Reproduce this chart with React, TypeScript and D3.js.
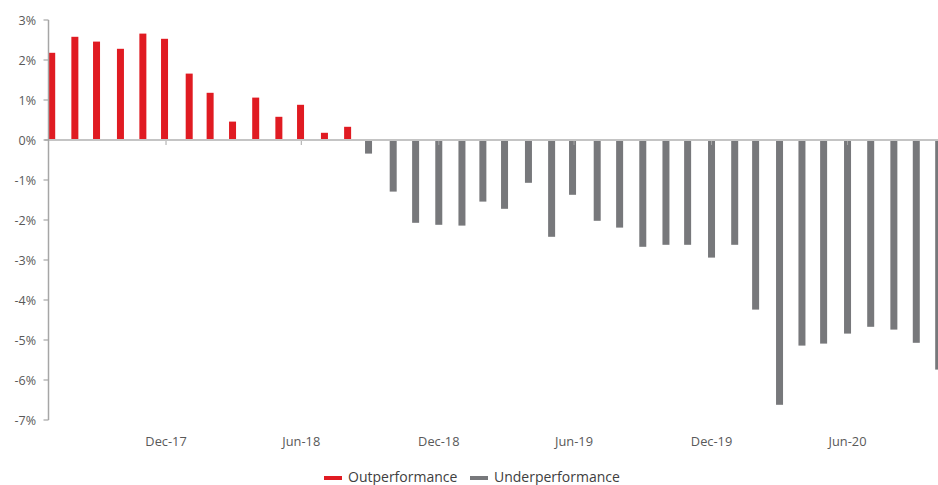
import { useEffect, useRef } from "react";
import * as d3 from "d3";

// month-end business dates, Jul-17 .. Oct-20
const dates = [
  "2017-07-31", "2017-08-31", "2017-09-29", "2017-10-31", "2017-11-30", "2017-12-29",
  "2018-01-31", "2018-02-28", "2018-03-30", "2018-04-30", "2018-05-31", "2018-06-29",
  "2018-07-31", "2018-08-31", "2018-09-28", "2018-10-31", "2018-11-30", "2018-12-31",
  "2019-01-31", "2019-02-28", "2019-03-29", "2019-04-30", "2019-05-31", "2019-06-28",
  "2019-07-31", "2019-08-30", "2019-09-30", "2019-10-31", "2019-11-29", "2019-12-31",
  "2020-01-31", "2020-02-28", "2020-03-31", "2020-04-30", "2020-05-29", "2020-06-30",
  "2020-07-31", "2020-08-31", "2020-09-30", "2020-10-30",
];

// relative performance, %
const values = [
  2.18, 2.58, 2.46, 2.28, 2.66, 2.53,
  1.66, 1.18, 0.46, 1.06, 0.58, 0.88,
  0.18, 0.33, -0.34, -1.29, -2.07, -2.12,
  -2.14, -1.54, -1.72, -1.07, -2.42, -1.37,
  -2.02, -2.19, -2.67, -2.62, -2.62, -2.94,
  -2.62, -4.24, -6.62, -5.14, -5.09, -4.84,
  -4.67, -4.74, -5.07, -5.74,
];

const tickDates = ["2017-12-31", "2018-06-30", "2018-12-31", "2019-06-30", "2019-12-31", "2020-06-30"];
const tickLabels = ["Dec-17", "Jun-18", "Dec-18", "Jun-19", "Dec-19", "Jun-20"];
const yTicks = [3, 2, 1, 0, -1, -2, -3, -4, -5, -6, -7];

const seriesNames = ["Outperformance", "Underperformance"];
const colors = ["#E01B22", "#77787B"];

const W = 938;
const H = 485;
const FONT = "'Open Sans', 'Noto Sans', sans-serif";

export default function App() {
  const ref = useRef<SVGSVGElement | null>(null);

  useEffect(() => {
    if (!ref.current) return;
    const svg = d3.select(ref.current);
    svg.selectAll("*").remove();

    const parse = d3.utcParse("%Y-%m-%d");
    const data = dates.map((d, i) => ({ date: parse(d)!, value: values[i] }));

    const axisX = 48.5;
    const x = d3.scaleUtc()
      .domain([parse(dates[0])!, parse(dates[dates.length - 1])!])
      .range([51.7, 938.7]);
    const y = d3.scaleLinear().domain([3, -7]).range([20, 420]);
    const barW = 7;

    const bars = svg.append("g");
    bars.selectAll("rect")
      .data(data)
      .join("rect")
      .attr("x", d => x(d.date) - barW / 2)
      .attr("width", barW)
      .attr("y", d => y(Math.max(0, d.value)))
      .attr("height", d => Math.abs(y(d.value) - y(0)))
      .attr("fill", d => (d.value >= 0 ? colors[0] : colors[1]));

    // zero line with date ticks
    const xAxis = svg.append("g");
    xAxis.selectAll("line.tick")
      .data(tickDates)
      .join("line")
      .attr("class", "tick")
      .attr("x1", d => x(parse(d)!))
      .attr("x2", d => x(parse(d)!))
      .attr("y1", y(0))
      .attr("y2", y(0) + 5)
      .attr("stroke", "#A6A6A6")
      .attr("stroke-width", 1);
    xAxis.append("line")
      .attr("x1", axisX - 4).attr("x2", W)
      .attr("y1", y(0)).attr("y2", y(0))
      .attr("stroke", "#C4C4C4")
      .attr("stroke-width", 2);
    xAxis.selectAll("text")
      .data(tickDates)
      .join("text")
      .attr("x", d => x(parse(d)!))
      .attr("y", 446)
      .attr("text-anchor", "middle")
      .attr("font-family", FONT)
      .attr("font-size", 12.8)
      .attr("fill", "#595959")
      .text((_, i) => tickLabels[i]);

    // y axis
    const yAxis = svg.append("g");
    yAxis.append("line")
      .attr("x1", axisX).attr("x2", axisX)
      .attr("y1", y(3)).attr("y2", y(-7))
      .attr("stroke", "#A6A6A6")
      .attr("stroke-width", 1.5);
    yAxis.selectAll("line.yt")
      .data(yTicks)
      .join("line")
      .attr("class", "yt")
      .attr("x1", axisX - 5).attr("x2", axisX)
      .attr("y1", d => y(d)).attr("y2", d => y(d))
      .attr("stroke", "#A6A6A6")
      .attr("stroke-width", 1.2);
    yAxis.selectAll("text")
      .data(yTicks)
      .join("text")
      .attr("x", 36)
      .attr("y", d => y(d) + 4.5)
      .attr("text-anchor", "end")
      .attr("font-family", FONT)
      .attr("font-size", 12.5)
      .attr("fill", "#595959")
      .text(d => `${d}%`);

    // legend
    const legendX = [324, 470];
    const lg = svg.append("g");
    seriesNames.forEach((name, i) => {
      lg.append("rect")
        .attr("x", legendX[i]).attr("y", 476)
        .attr("width", 18).attr("height", 4)
        .attr("fill", colors[i]);
      lg.append("text")
        .attr("x", legendX[i] + 24)
        .attr("y", 481.5)
        .attr("font-family", FONT)
        .attr("font-size", 14)
        .attr("fill", "#404040")
        .text(name);
    });
  }, []);

  return (
    <svg
      ref={ref}
      width={W}
      height={H}
      style={{ position: "absolute", left: 0, top: 0, background: "#fff" }}
      role="img"
      aria-label="Monthly relative performance, outperformance vs underperformance"
    />
  );
}
